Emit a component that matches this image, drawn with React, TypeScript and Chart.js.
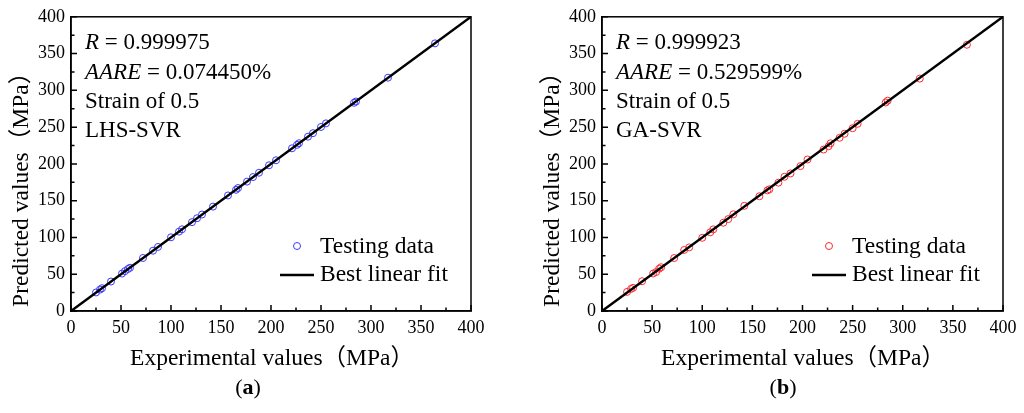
import { useEffect, useRef } from 'react';
import { Chart, registerables } from 'chart.js';

Chart.register(...registerables);

// experimental flow stress (MPa) of the testing samples
const experimental = [25, 29, 31, 40, 51, 54, 57, 59, 72, 82, 87, 100, 108, 111, 121, 126, 131, 142, 157, 165, 167, 176, 182, 188, 198, 205, 221, 226, 228, 237, 242, 250, 255, 283, 285, 317, 364];
const predictedLHS = [25.2, 29.1, 31.0, 40.1, 50.9, 54.2, 57.1, 58.8, 72.1, 82.0, 87.1, 100.2, 107.9, 111.1, 120.8, 126.1, 131.2, 141.9, 157.1, 164.8, 167.2, 175.9, 182.1, 188.0, 198.1, 204.9, 221.2, 225.9, 228.1, 237.0, 241.8, 250.2, 255.1, 283.1, 284.8, 317.2, 363.9];
const predictedGA = [26, 30, 31.5, 40.5, 51, 53, 57.5, 59.5, 72, 83, 86.5, 99.5, 107, 111, 120, 125, 131.5, 143, 156, 164, 165.5, 174.5, 182.5, 187, 197, 206, 219.5, 224, 228, 235.5, 241, 248.5, 254.5, 283.5, 286, 316, 362];
const fitX = [0, 400];
const fitY = [0, 400];
const axisMin = 0;
const axisMax = 400;
const majorStep = 50;
const minorStep = 25;

const xTitle = 'Experimental values（MPa）';
const yTitle = 'Predicted values（MPa）';

const SERIF = '"Liberation Serif", "Times New Roman", "Noto Sans CJK SC", serif';

type Part = { text: string; italic?: boolean };

const infoLHS: Part[][] = [
  [{ text: 'R', italic: true }, { text: ' = 0.999975' }],
  [{ text: 'AARE', italic: true }, { text: ' = 0.074450%' }],
  [{ text: 'Strain of 0.5' }],
  [{ text: 'LHS-SVR' }],
];
const infoGA: Part[][] = [
  [{ text: 'R', italic: true }, { text: ' = 0.999923' }],
  [{ text: 'AARE', italic: true }, { text: ' = 0.529599%' }],
  [{ text: 'Strain of 0.5' }],
  [{ text: 'GA-SVR' }],
];

function framePlugin(lines: Part[][], color: string) {
  return {
    id: 'frame',
    afterDraw(chart: Chart) {
      const { ctx, chartArea: a, scales } = chart;
      ctx.save();
      ctx.strokeStyle = '#000';
      ctx.lineWidth = 1.5;
      ctx.strokeRect(a.left, a.top, a.right - a.left, a.bottom - a.top);
      // inward ticks
      ctx.beginPath();
      for (let v = axisMin; v <= axisMax; v += minorStep) {
        const len = v % majorStep === 0 ? 6 : 3.5;
        const px = scales.x.getPixelForValue(v);
        const py = scales.y.getPixelForValue(v);
        ctx.moveTo(px, a.bottom);
        ctx.lineTo(px, a.bottom - len);
        ctx.moveTo(a.left, py);
        ctx.lineTo(a.left + len, py);
      }
      ctx.stroke();

      ctx.fillStyle = '#000';
      ctx.textBaseline = 'alphabetic';

      // axis titles
      ctx.font = `23.5px ${SERIF}`;
      ctx.textAlign = 'center';
      ctx.fillText(xTitle, a.left + 201, a.bottom + 54);
      ctx.save();
      ctx.translate(a.left - 43.5, (a.top + a.bottom) / 2 + 20);
      ctx.rotate(-Math.PI / 2);
      ctx.fillText(yTitle, 0, 0);
      ctx.restore();

      // statistics text
      ctx.textAlign = 'left';
      const baselines = [32, 62, 91, 120];
      lines.forEach((parts, i) => {
        let x = a.left + 14;
        parts.forEach((p) => {
          ctx.font = `${p.italic ? 'italic ' : ''}23px ${SERIF}`;
          ctx.fillText(p.text, x, a.top + baselines[i]);
          x += ctx.measureText(p.text).width;
        });
      });

      // legend
      ctx.font = `23.5px ${SERIF}`;
      ctx.strokeStyle = color;
      ctx.lineWidth = 1;
      ctx.beginPath();
      ctx.arc(a.right - 174, a.bottom - 65, 3.5, 0, Math.PI * 2);
      ctx.stroke();
      ctx.fillText('Testing data', a.right - 151, a.bottom - 58);
      ctx.strokeStyle = '#000';
      ctx.lineWidth = 2.5;
      ctx.beginPath();
      ctx.moveTo(a.right - 191, a.bottom - 36);
      ctx.lineTo(a.right - 157, a.bottom - 36);
      ctx.stroke();
      ctx.fillText('Best linear fit', a.right - 151, a.bottom - 30);
      ctx.restore();
    },
  };
}

type PanelProps = {
  predicted: number[];
  color: string;
  lines: Part[][];
  label: string;
  left: number;
  padLeft: number;
  padRight: number;
  labelX: number;
};

function Panel({ predicted, color, lines, label, left, padLeft, padRight, labelX }: PanelProps) {
  const canvasRef = useRef<HTMLCanvasElement>(null);

  useEffect(() => {
    if (!canvasRef.current) return;

    const tickFont = { family: SERIF, size: 18 };

    const chart = new Chart(canvasRef.current, {
      type: 'scatter',
      data: {
        datasets: [
          {
            type: 'line',
            label: 'Best linear fit',
            data: fitX.map((x, i) => ({ x, y: fitY[i] })),
            borderColor: '#000',
            borderWidth: 2.5,
            pointRadius: 0,
            fill: false,
          },
          {
            type: 'scatter',
            label: 'Testing data',
            data: experimental.map((x, i) => ({ x, y: predicted[i] })),
            borderColor: color,
            backgroundColor: 'rgba(0,0,0,0)',
            borderWidth: 1,
            pointRadius: 3.5,
          },
        ],
      },
      options: {
        animation: false,
        responsive: false,
        layout: { padding: { left: padLeft, right: padRight, top: 15, bottom: 40 } },
        plugins: {
          legend: { display: false },
          tooltip: { enabled: false },
        },
        scales: {
          x: {
            type: 'linear',
            min: axisMin,
            max: axisMax,
            ticks: { stepSize: majorStep, color: '#000', font: tickFont, padding: 6, maxRotation: 0 },
            grid: { display: false, drawTicks: false },
            border: { display: true, color: '#000', width: 1.5 },
            afterFit: (s: any) => {
              s.height = 62;
            },
          },
          y: {
            type: 'linear',
            min: axisMin,
            max: axisMax,
            ticks: { stepSize: majorStep, color: '#000', font: tickFont, padding: 6 },
            grid: { display: false, drawTicks: false },
            border: { display: true, color: '#000', width: 1.5 },
            afterFit: (s: any) => {
              s.width = 68;
            },
          },
        },
      },
      plugins: [framePlugin(lines, color)],
    });

    return () => chart.destroy();
  }, [predicted, color, lines, padLeft, padRight]);

  return (
    <div style={{ position: 'absolute', left, top: 0, width: 512, height: 413 }}>
      <canvas ref={canvasRef} width={512} height={413}></canvas>
      <div
        style={{
          position: 'absolute',
          left: labelX - 30,
          width: 60,
          top: 374,
          textAlign: 'center',
          fontFamily: SERIF,
          fontSize: 22,
          lineHeight: '26px',
          color: '#000',
        }}
      >
        (<b>{label}</b>)
      </div>
    </div>
  );
}

export default function App() {
  return (
    <div style={{ position: 'fixed', left: 0, top: 0, width: 1024, height: 413, background: '#fff', overflow: 'hidden' }}>
      <Panel predicted={predictedLHS} color="#3a3aff" lines={infoLHS} label="a" left={0} padLeft={3} padRight={41} labelX={248} />
      <Panel predicted={predictedGA} color="#ff2a2a" lines={infoGA} label="b" left={512} padLeft={22} padRight={21} labelX={271} />
    </div>
  );
}
